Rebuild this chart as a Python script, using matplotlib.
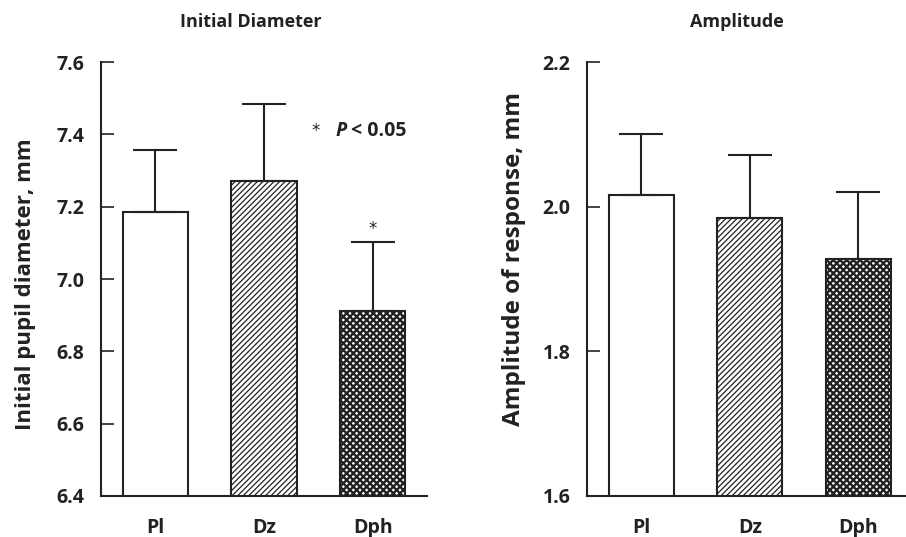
import matplotlib
matplotlib.use("Agg")
import matplotlib.pyplot as plt
import numpy as np

plt.rcParams["font.family"] = ["Open Sans", "DejaVu Sans"]
plt.rcParams["hatch.color"] = "#1a1a1a"

groups = ["Pl", "Dz", "Dph"]
hatches = ["", "//////", "xxxxx"]

init_means = [7.184, 7.271, 6.912]
init_err = [0.173, 0.212, 0.191]
init_ticks = [6.4, 6.6, 6.8, 7.0, 7.2, 7.4, 7.6]

amp_means = [2.016, 1.985, 1.927]
amp_err = [0.085, 0.087, 0.094]
amp_ticks = [1.6, 1.8, 2.0, 2.2]

ink = "#222222"

fig = plt.figure(figsize=(9.06, 5.37), dpi=100)
ax1 = fig.add_axes([0.1115, 0.0764, 0.36, 0.808])
ax2 = fig.add_axes([0.648, 0.0764, 0.352, 0.808])


def draw_panel(ax, means, errs, ticks, ylabel, label_size, title, xmax,
               label_x, label_y, title_x):
    x = np.arange(len(groups))
    for i in range(len(groups)):
        lw = 1.7 if hatches[i].startswith("x") else 0.9
        with plt.rc_context({"hatch.linewidth": lw}):
            b = ax.bar(x[i], means[i], width=0.6, bottom=0, color="white",
                       edgecolor=ink, linewidth=1.5, hatch=hatches[i] or None,
                       zorder=2)
        for p in b:
            if hasattr(p, "set_hatch_linewidth"):
                p.set_hatch_linewidth(lw)
        ax.errorbar(x[i], means[i], yerr=[[0], [errs[i]]], fmt="none",
                    ecolor=ink, elinewidth=1.5, capsize=16, capthick=1.5,
                    zorder=3)
    ax.set_ylim(ticks[0], ticks[-1])
    ax.set_xlim(-0.5, xmax)
    ax.set_yticks(ticks)
    ax.set_yticklabels([f"{t:.1f}" for t in ticks], fontsize=14,
                       fontweight="bold", color=ink)
    ax.set_xticks(x)
    ax.set_xticklabels(groups, fontsize=14, fontweight="bold", color=ink)
    ax.tick_params(axis="y", direction="in", length=9, width=1.2, pad=12,
                   colors=ink)
    ax.tick_params(axis="x", length=0, pad=16)
    for s in ["top", "right"]:
        ax.spines[s].set_visible(False)
    for s in ["left", "bottom"]:
        ax.spines[s].set_linewidth(1.5)
        ax.spines[s].set_color(ink)
    ax.set_ylabel(ylabel, fontsize=label_size, fontweight="bold", color=ink)
    ax.yaxis.set_label_coords(label_x, label_y)
    ax.text(title_x, 1.093, title, transform=ax.transAxes, ha="center",
            va="center", fontsize=13, fontweight="bold", color=ink)


draw_panel(ax1, init_means, init_err, init_ticks,
           "Initial pupil diameter, mm", 16, "Initial Diameter", 2.5,
           -0.199, 0.487, 0.46)
draw_panel(ax2, amp_means, amp_err, amp_ticks,
           "Amplitude of response, mm", 17.5, "Amplitude", 2.44,
           -0.191, 0.547, 0.47)

# significance marks
ax1.text(2, init_means[2] + init_err[2] + 0.035, "*", ha="center",
         va="center", fontsize=12, color=ink, family="DejaVu Sans")
ax1.text(1.47, 7.41, "*", ha="center", va="center", fontsize=12, color=ink,
         family="DejaVu Sans")
ax1.text(1.66, 7.41, "P", ha="left", va="center", fontsize=14,
         fontweight="bold", style="italic", color=ink)
ax1.text(1.80, 7.41, "< 0.05", ha="left", va="center", fontsize=14,
         fontweight="bold", color=ink)

fig.savefig("out.png", dpi=100)
